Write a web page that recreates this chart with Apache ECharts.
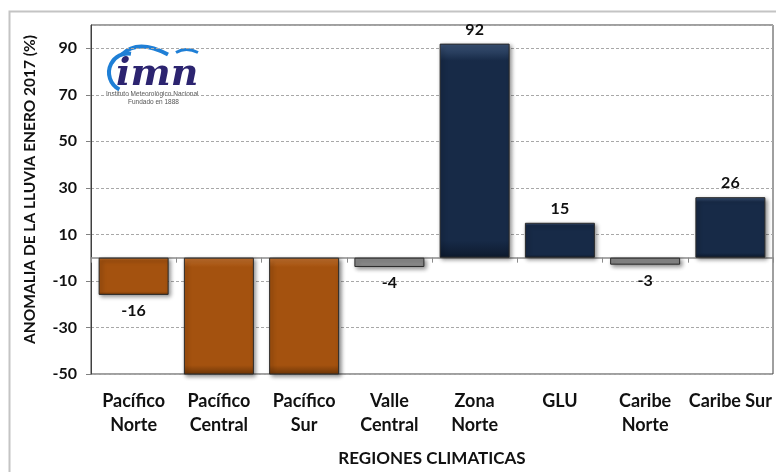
<!DOCTYPE html>
<html>
<head>
<meta charset="utf-8">
<script src="https://cdn.jsdelivr.net/npm/echarts@6/dist/echarts.min.js"></script>
<style>
html,body{margin:0;padding:0;background:#fff;}
#chart{width:776px;height:472px;}
</style>
</head>
<body>
<div id="chart"></div>
<script>
// ---- data ----
const categories = ['Pacífico\nNorte','Pacífico\nCentral','Pacífico\nSur','Valle\nCentral','Zona\nNorte','GLU','Caribe\nNorte','Caribe Sur'];
const anomalies = [-16, -72, -66, -4, 92, 15, -3, 26];
const yTicks = [-50, -30, -10, 10, 30, 50, 70, 90];
const yMin = -50, yMax = 100, yStep = 20;

const FONT = 'Lato';
function barColor(v){
  if (v < -10) return {c:'#a4520f', hi:'#c77430', lo:'#6e3607'};
  if (v <= 10) return {c:'#8a8a8a', hi:'#b8b8b8', lo:'#5a5a5a'};
  return {c:'#172a47', hi:'#3c5478', lo:'#0d1a2e'};
}
const barData = anomalies.map(v => {
  const col = barColor(v);
  return {
    value: v,
    itemStyle: {
      color: {type:'linear', x:0, y:0, x2:0, y2:1, colorStops:[
        {offset:0, color: col.hi}, {offset:0.08, color: col.c}, {offset:0.92, color: col.c}, {offset:1, color: col.lo}
      ]},
      borderColor: '#2a2a2a', borderWidth: 1,
      shadowColor: 'rgba(0,0,0,0.45)', shadowBlur: 4, shadowOffsetX: 2, shadowOffsetY: 2
    },
    label: { show: v >= yMin, position: v >= 0 ? 'top' : 'bottom', distance: v >= 0 ? 6 : 8 }
  };
});

const chart = echarts.init(document.getElementById('chart'));
chart.setOption({
  animation: false,
  backgroundColor: '#fff',
  grid: { left: 91, top: 25, width: 682, height: 350, show: true, borderColor: '#404040', borderWidth: 1, backgroundColor: 'transparent' },
  xAxis: [
    {
      type: 'category', data: categories, position: 'bottom',
      axisLine: { onZero: false, show: false },
      axisTick: { show: false },
      axisLabel: { fontFamily: FONT, fontWeight: 'bold', fontSize: 18, color: '#111', margin: 15, lineHeight: 24, interval: 0 },
      name: 'REGIONES CLIMATICAS', nameLocation: 'middle', nameGap: 76,
      nameTextStyle: { fontFamily: FONT, fontWeight: 'bold', fontSize: 17, color: '#111' }
    },
    {
      type: 'category', data: categories, position: 'bottom',
      axisLine: { onZero: true, show: true, lineStyle: { color: '#8c8c8c', width: 1.5 } },
      axisTick: { show: true, length: 5, lineStyle: { color: '#8c8c8c' } },
      axisLabel: { show: false }
    }
  ],
  yAxis: {
    type: 'value', min: yMin, max: yMax, interval: yStep,
    axisLine: { show: true, lineStyle: { color: '#404040' } },
    axisTick: { show: true, length: 5, lineStyle: { color: '#808080' } },
    axisLabel: { showMaxLabel: false, fontFamily: FONT, fontWeight: 'bold', fontSize: 16, color: '#111', margin: 14,
      formatter: v => yTicks.includes(v) ? String(v) : '' },
    splitLine: { show: true, lineStyle: { color: '#a8a8a8', type: [3,2], width: 1 } },
    name: 'ANOMALIA DE LA LLUVIA ENERO 2017 (%)', nameLocation: 'middle', nameGap: 53, nameRotate: 90,
    nameTextStyle: { fontFamily: FONT, fontWeight: 'bold', fontSize: 15.5, color: '#111', padding: [0, 0, 0, 20] }
  },
  series: [{
    type: 'bar', xAxisIndex: 0, data: barData, barWidth: 70,
    label: { fontFamily: FONT, fontWeight: 'bold', fontSize: 16, color: '#111' }
  }],
  graphic: [
    { type: 'rect', left: 7, top: 9, shape: { width: 800, height: 500 }, style: { fill: 'none', stroke: '#c4c4c4', lineWidth: 2 }, silent: true, z: -1 },
    { type: 'group', left: 106, top: 44, children: [
      { type: 'arc', shape: { cx: 22, cy: 30, r: 19, startAngle: Math.PI*0.65, endAngle: Math.PI*1.55 }, style: { stroke: '#1f7fd6', lineWidth: 4, fill: 'none' } },
      { type: 'bezierCurve', shape: { x1: 16, y1: 12, cpx1: 32, cpy1: -4, x2: 62, y2: 12 }, style: { stroke: '#1f7fd6', lineWidth: 4, fill: 'none' } },
      { type: 'bezierCurve', shape: { x1: 70, y1: 10, cpx1: 80, cpy1: 4, x2: 92, y2: 10 }, style: { stroke: '#1f7fd6', lineWidth: 3, fill: 'none' } },
      { type: 'text', style: { x: 10, y: 14, text: 'imn', font: 'italic bold 38px "DejaVu Serif"', fill: '#2c2470' } },
      { type: 'text', style: { x: 0, y: 48, text: 'Instituto Meteorológico Nacional', font: '6.5px "Liberation Sans"', fill: '#555' } },
      { type: 'text', style: { x: 22, y: 56, text: 'Fundado en 1888', font: '6.5px "Liberation Sans"', fill: '#555' } }
    ]}
  ]
});
</script>
</body>
</html>
